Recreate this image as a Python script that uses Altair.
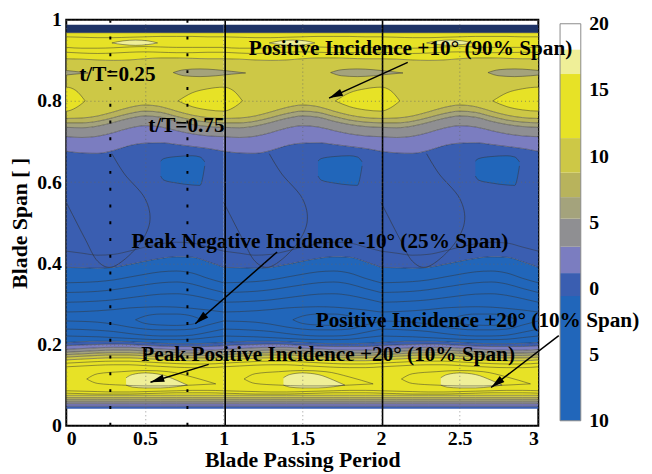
import math
import altair as alt
import pandas as pd

# ---------------- data ----------------
phase = [0.0, 0.1, 0.2, 0.3, 0.4, 0.5, 0.6, 0.7, 0.8, 0.9, 1.0]   # within one blade passing period
periods = [-1, 0, 1, 2]

# band boundaries (blade span) at each phase, bottom -> top
s_floor = [0.042, 0.042, 0.042, 0.042, 0.042, 0.042, 0.042, 0.042, 0.042, 0.042, 0.042]
s_b1 = [0.048, 0.048, 0.048, 0.048, 0.048, 0.048, 0.048, 0.048, 0.048, 0.048, 0.048]
s_b2 = [0.054, 0.054, 0.054, 0.054, 0.054, 0.054, 0.054, 0.054, 0.054, 0.054, 0.054]
s_b3 = [0.059, 0.059, 0.059, 0.059, 0.059, 0.059, 0.059, 0.059, 0.059, 0.059, 0.059]
s_b4 = [0.064, 0.064, 0.064, 0.064, 0.064, 0.064, 0.064, 0.064, 0.064, 0.064, 0.064]
s_b5 = [0.069, 0.069, 0.069, 0.069, 0.069, 0.069, 0.069, 0.069, 0.069, 0.069, 0.069]
s_b6 = [0.075, 0.075, 0.075, 0.075, 0.075, 0.075, 0.075, 0.075, 0.075, 0.075, 0.075]
s_t0 = [0.162, 0.164, 0.166, 0.167, 0.167, 0.165, 0.163, 0.161, 0.160, 0.160, 0.162]
s_t1 = [0.169, 0.171, 0.173, 0.174, 0.174, 0.172, 0.170, 0.168, 0.167, 0.167, 0.169]
s_t2 = [0.175, 0.177, 0.179, 0.180, 0.180, 0.178, 0.176, 0.174, 0.173, 0.173, 0.175]
s_t3 = [0.181, 0.183, 0.185, 0.186, 0.186, 0.184, 0.182, 0.180, 0.179, 0.179, 0.181]
s_t4 = [0.188, 0.190, 0.192, 0.193, 0.193, 0.191, 0.189, 0.187, 0.186, 0.186, 0.188]
s_t5 = [0.197, 0.199, 0.200, 0.201, 0.200, 0.198, 0.196, 0.195, 0.195, 0.195, 0.197]
s_t6 = [0.205, 0.207, 0.208, 0.208, 0.207, 0.205, 0.203, 0.202, 0.202, 0.203, 0.205]
s_d0 = [0.390, 0.389, 0.388, 0.390, 0.397, 0.405, 0.412, 0.416, 0.415, 0.404, 0.390]
s_u0 = [0.676, 0.672, 0.671, 0.678, 0.690, 0.696, 0.697, 0.693, 0.688, 0.683, 0.676]
s_u1 = [0.712, 0.710, 0.713, 0.722, 0.733, 0.739, 0.736, 0.727, 0.719, 0.714, 0.712]
s_u2 = [0.735, 0.734, 0.738, 0.747, 0.757, 0.763, 0.760, 0.750, 0.742, 0.737, 0.735]
s_u3 = [0.746, 0.746, 0.750, 0.759, 0.769, 0.775, 0.772, 0.762, 0.753, 0.748, 0.746]
s_u4 = [0.757, 0.758, 0.763, 0.773, 0.784, 0.790, 0.786, 0.775, 0.765, 0.759, 0.757]
s_u5 = [0.904, 0.903, 0.901, 0.900, 0.901, 0.904, 0.906, 0.906, 0.905, 0.904, 0.904]
s_u6 = [0.968, 0.968, 0.968, 0.968, 0.968, 0.968, 0.968, 0.968, 0.968, 0.968, 0.968]
s_top = [0.988, 0.988, 0.988, 0.988, 0.988, 0.988, 0.988, 0.988, 0.988, 0.988, 0.988]

stack = [
    ("mid", s_floor, s_b1), ("lavender", s_b1, s_b2), ("gray", s_b2, s_b3),
    ("grayolive", s_b3, s_b4), ("olive", s_b4, s_b5), ("darkyellow", s_b5, s_b6),
    ("yellow", s_b6, s_t0), ("darkyellow", s_t0, s_t1), ("olive", s_t1, s_t2),
    ("grayolive", s_t2, s_t3), ("gray", s_t3, s_t4), ("lavender", s_t4, s_t5),
    ("mid", s_t5, s_t6), ("deep", s_t6, s_d0), ("mid", s_d0, s_u0),
    ("lavender", s_u0, s_u1), ("gray", s_u1, s_u2), ("grayolive", s_u2, s_u3),
    ("olive", s_u3, s_u4), ("darkyellow", s_u4, s_u5), ("yellow", s_u5, s_u6),
    ("navy", s_u6, s_top),
]

# closed contour islands: (band, phase points, lower edge, upper edge)
lenses = [
    ("lightyellow", [0.38, 0.42, 0.50, 0.60, 0.70, 0.77],
     [0.100, 0.095, 0.093, 0.093, 0.096, 0.100], [0.118, 0.126, 0.130, 0.126, 0.112, 0.100]),
    ("lightyellow", [0.29, 0.36, 0.44, 0.52, 0.58],
     [0.943, 0.939, 0.937, 0.939, 0.943], [0.943, 0.948, 0.950, 0.948, 0.943]),
    ("yellow", [0.71, 0.80, 0.90, 1.00, 1.06, 1.12],
     [0.800, 0.786, 0.778, 0.775, 0.783, 0.800], [0.800, 0.820, 0.830, 0.834, 0.826, 0.800]),
    ("grayolive", [0.68, 0.75, 0.85, 0.95, 1.05, 1.14],
     [0.870, 0.862, 0.860, 0.862, 0.866, 0.869], [0.870, 0.877, 0.879, 0.877, 0.873, 0.869]),
    ("deep", [0.60, 0.62, 0.70, 0.80, 0.85, 0.88],
     [0.615, 0.605, 0.598, 0.593, 0.592, 0.640], [0.652, 0.658, 0.663, 0.665, 0.662, 0.650]),
]
# contour outlines only (same colour inside)
outline_only = [
    ([0.44, 0.50, 0.60, 0.70, 0.80, 0.86],
     [0.261, 0.252, 0.248, 0.247, 0.250, 0.261], [0.261, 0.270, 0.275, 0.275, 0.270, 0.261]),
    ([0.13, 0.20, 0.35, 0.50, 0.65, 0.80, 0.95],
     [0.115, 0.104, 0.100, 0.098, 0.098, 0.100, 0.103], [0.115, 0.128, 0.133, 0.136, 0.133, 0.120, 0.103]),
]
# extra iso-lines inside bands
iso_lines = [
    [0.352, 0.353, 0.355, 0.359, 0.366, 0.373, 0.379, 0.381, 0.376, 0.363, 0.352],
    [0.328, 0.329, 0.331, 0.335, 0.341, 0.347, 0.352, 0.354, 0.349, 0.338, 0.328],
    [0.304, 0.305, 0.307, 0.310, 0.315, 0.320, 0.324, 0.325, 0.321, 0.313, 0.304],
    [0.280, 0.281, 0.283, 0.286, 0.290, 0.292, 0.293, 0.292, 0.289, 0.285, 0.280],
    [0.258, 0.257, 0.255, 0.250, 0.243, 0.238, 0.236, 0.236, 0.238, 0.248, 0.258],
    [0.238, 0.237, 0.235, 0.232, 0.227, 0.223, 0.221, 0.221, 0.223, 0.230, 0.238],
    [0.221, 0.220, 0.219, 0.217, 0.215, 0.213, 0.212, 0.212, 0.213, 0.217, 0.221],
    [0.430, 0.425, 0.420, 0.422, 0.430, 0.440, 0.448, 0.452, 0.450, 0.440, 0.430],
    [0.154, 0.156, 0.158, 0.159, 0.159, 0.157, 0.155, 0.153, 0.152, 0.152, 0.154],
    [0.145, 0.147, 0.149, 0.150, 0.150, 0.148, 0.146, 0.144, 0.143, 0.143, 0.145],
    [0.086, 0.085, 0.084, 0.083, 0.083, 0.084, 0.085, 0.086, 0.087, 0.087, 0.086],
    [0.080, 0.079, 0.078, 0.078, 0.078, 0.079, 0.080, 0.081, 0.081, 0.081, 0.080],
    [0.958, 0.957, 0.956, 0.956, 0.957, 0.958, 0.959, 0.959, 0.959, 0.958, 0.958],
    [0.932, 0.930, 0.930, 0.931, 0.933, 0.934, 0.933, 0.932, 0.932, 0.932, 0.932],
    [0.920, 0.918, 0.917, 0.918, 0.920, 0.921, 0.920, 0.919, 0.919, 0.920, 0.920],
]
# free-form contour in the mid band (ordered points)
loop_x = [0.29, 0.37, 0.50, 0.53, 0.45, 0.30, 0.20, 0.12, 0.04, 0.00]
loop_y = [0.670, 0.620, 0.560, 0.500, 0.440, 0.392, 0.405, 0.460, 0.520, 0.550]

band_names = ["navy", "deep", "mid", "lavender", "gray", "grayolive", "olive",
              "darkyellow", "yellow", "lightyellow", "white"]
band_colors = ["#1e3366", "#2166ba", "#3a5eb1", "#7b7dc0", "#8f8f92", "#a4a37c", "#b8b35c",
               "#cdc846", "#e7e226", "#efef98", "#ffffff"]

# colour bar: bands and their value edges
cbar_bands = ["deep", "mid", "lavender", "gray", "grayolive", "olive", "darkyellow",
              "yellow", "lightyellow", "white"]
cbar_edges = [-10, -0.58, 1.16, 3.15, 5.27, 6.9, 8.75, 11.36, 16.2, 18.06, 20]
cbar_ticks = [-10, -5, 0, 5, 10, 15, 20]

# vertical markers
period_lines = [1.01, 2.01]
phase_markers = [0.28, 0.77]

# annotations
notes = ["Positive Incidence +10\u00b0 (90% Span)", "t/T=0.25", "t/T=0.75",
         "Peak Negative Incidence -10\u00b0 (25% Span)", "Positive Incidence +20\u00b0 (10% Span)",
         "Peak Positive Incidence +20\u00b0 (10% Span)"]
note_x = [1.160, 0.082, 0.521, 0.414, 1.585, 0.477]
note_y = [0.929, 0.864, 0.737, 0.4526, 0.258, 0.173]

arrow_x0 = [2.17, 1.34, 0.905, 3.13]
arrow_y0 = [0.895, 0.428, 0.151, 0.222]
arrow_x1 = [1.67, 0.82, 0.535, 2.70]
arrow_y1 = [0.807, 0.251, 0.107, 0.094]

# ---------------- tables ----------------
W, H = 478, 411
rows = []
for k in periods:
    for i, (band, lo, hi) in enumerate(stack):
        for p, a, b in zip(phase, lo, hi):
            rows.append({"x": p + k, "lo": a, "hi": b, "band": band, "key": f"s{i}_{k}"})
    for j, (band, xs, lo, hi) in enumerate(lenses):
        for p, a, b in zip(xs, lo, hi):
            rows.append({"x": p + k, "lo": a, "hi": b, "band": band, "key": f"l{j}_{k}"})
area_df = pd.DataFrame(rows)
stack_df = area_df[area_df["key"].str.startswith("s")]
lens_df = area_df[area_df["key"].str.startswith("l")]

edges = [s_b1, s_b2, s_b3, s_b4, s_b5, s_b6, s_t0, s_t1, s_t2, s_t3, s_t4,
         s_t5, s_t6, s_d0, s_u0, s_u1, s_u2, s_u3, s_u4, s_u5, s_u6]
lrows = []
for k in periods:
    for i, e in enumerate(edges + iso_lines):
        for p, v in zip(phase, e):
            lrows.append({"x": p + k, "y": v, "key": f"e{i}_{k}"})
    for j, (_, xs, lo, hi) in enumerate(lenses):
        for p, a, b in zip(xs, lo, hi):
            lrows.append({"x": p + k, "y": a, "key": f"la{j}_{k}"})
            lrows.append({"x": p + k, "y": b, "key": f"lb{j}_{k}"})
    for j, (xs, lo, hi) in enumerate(outline_only):
        for p, a, b in zip(xs, lo, hi):
            lrows.append({"x": p + k, "y": a, "key": f"oa{j}_{k}"})
            lrows.append({"x": p + k, "y": b, "key": f"ob{j}_{k}"})
line_df = pd.DataFrame(lrows)

loop_df = pd.DataFrame([{"x": a + k, "y": b, "ord": n, "key": f"loop_{k}"}
                        for k in periods for n, (a, b) in enumerate(zip(loop_x, loop_y))])

cbar_df = pd.DataFrame({"band": cbar_bands, "lo": cbar_edges[:-1], "hi": cbar_edges[1:]})
cframe_df = pd.DataFrame({"lo": [cbar_edges[0]], "hi": [cbar_edges[-1]]})

note_df = pd.DataFrame({"x": note_x, "y": note_y, "t": notes})
arrows = pd.DataFrame({"x0": arrow_x0, "y0": arrow_y0, "x1": arrow_x1, "y1": arrow_y1})
arrows["angle"] = [
    math.degrees(math.atan2((b - a) * W / 3, (d - c) * H)) % 360
    for a, b, c, d in zip(arrows.x0, arrows.x1, arrows.y0, arrows.y1)
]

# ---------------- chart ----------------
FONT = "Liberation Serif"
xs = alt.Scale(domain=[0, 3], nice=False)
ys = alt.Scale(domain=[0, 1], nice=False)
cs = alt.Scale(domain=band_names, range=band_colors)

x_axis = alt.Axis(values=[0, 0.5, 1, 1.5, 2, 2.5, 3], format="~g", title="Blade Passing Period",
                  grid=True, gridDash=[1, 3], gridColor="#666", gridOpacity=0.7,
                  labelPadding=3, titlePadding=1, titleFontSize=22, zindex=1)
y_axis = alt.Axis(values=[0, 0.2, 0.4, 0.6, 0.8, 1], format="~g", title="Blade Span [ ]",
                  grid=True, gridDash=[1, 3], gridColor="#666", gridOpacity=0.7,
                  labelPadding=5, titlePadding=5, titleFontSize=22, zindex=1)

bands = alt.Chart(stack_df).mark_area(clip=True, interpolate="monotone").encode(
    x=alt.X("x:Q", scale=xs, axis=x_axis),
    y=alt.Y("lo:Q", scale=ys, axis=y_axis),
    y2="hi:Q",
    color=alt.Color("band:N", scale=cs, legend=None),
    detail="key:N",
)
islands = alt.Chart(lens_df).mark_area(clip=True, interpolate="monotone").encode(
    x=alt.X("x:Q", scale=xs), y=alt.Y("lo:Q", scale=ys), y2="hi:Q",
    color=alt.Color("band:N", scale=cs, legend=None), detail="key:N",
)
contours = alt.Chart(line_df).mark_line(clip=True, interpolate="monotone", color="#333",
                                         strokeWidth=0.7, opacity=0.7).encode(
    x=alt.X("x:Q", scale=xs), y=alt.Y("y:Q", scale=ys), detail="key:N",
)
loops = alt.Chart(loop_df).mark_line(clip=True, interpolate="cardinal", color="#333",
                                      strokeWidth=0.8, opacity=0.75).encode(
    x=alt.X("x:Q", scale=xs), y=alt.Y("y:Q", scale=ys), detail="key:N", order="ord:Q",
)
plines = alt.Chart(pd.DataFrame({"x": period_lines})).mark_rule(color="black", strokeWidth=1.6).encode(
    x=alt.X("x:Q", scale=xs))
pmarks = alt.Chart(pd.DataFrame({"x": phase_markers})).mark_rule(
    color="black", strokeWidth=2, strokeDash=[3, 14]).encode(x=alt.X("x:Q", scale=xs))

texts = alt.Chart(note_df).mark_text(align="left", baseline="middle", font=FONT,
                                     fontWeight="bold", fontSize=21.5, color="black").encode(
    x=alt.X("x:Q", scale=xs), y=alt.Y("y:Q", scale=ys), text="t:N")
shafts = alt.Chart(arrows).mark_rule(color="black", strokeWidth=1.5).encode(
    x=alt.X("x0:Q", scale=xs), y=alt.Y("y0:Q", scale=ys), x2="x1:Q", y2="y1:Q")
heads = alt.Chart(arrows).mark_point(shape="M0,0L-0.55,2L0.55,2Z", filled=True, size=196,
                                     color="black", opacity=1).encode(
    x=alt.X("x1:Q", scale=xs), y=alt.Y("y1:Q", scale=ys), angle=alt.Angle("angle:Q", scale=None))

main = alt.layer(bands, islands, contours, loops, plines, pmarks, shafts, heads, texts)

cy = alt.Scale(domain=[-10.37, 20.3], nice=False)
cbar = alt.Chart(cbar_df).mark_rect().encode(
    y=alt.Y("lo:Q", scale=cy, axis=alt.Axis(orient="right", values=cbar_ticks, labelExpr="abs(datum.value)",
                                             offset=51, labelPadding=0, grid=False, title=None)),
    y2="hi:Q",
    x=alt.value(500), x2=alt.value(521),
    color=alt.Color("band:N", scale=cs, legend=None),
)
cframe = alt.Chart(cframe_df).mark_rect(filled=False, stroke="#8a8a8a", strokeWidth=1).encode(
    y=alt.Y("lo:Q", scale=cy), y2="hi:Q", x=alt.value(500), x2=alt.value(521))
colorbar = alt.layer(cbar, cframe)

chart = alt.layer(colorbar, main).resolve_scale(y="independent").properties(
    width=W, height=H,
    padding={"left": 59, "top": 9, "right": 107, "bottom": 46},
    autosize=alt.AutoSizeParams(type="none"),
).configure_view(stroke="black", strokeWidth=2).configure_axis(
    labelFont=FONT, labelFontWeight="bold", labelFontSize=20, labelColor="black",
    titleFont=FONT, titleFontWeight="bold", titleColor="black",
    domain=False, ticks=False,
)

chart.save("out.html", embed_options={"renderer": "svg", "actions": False})
